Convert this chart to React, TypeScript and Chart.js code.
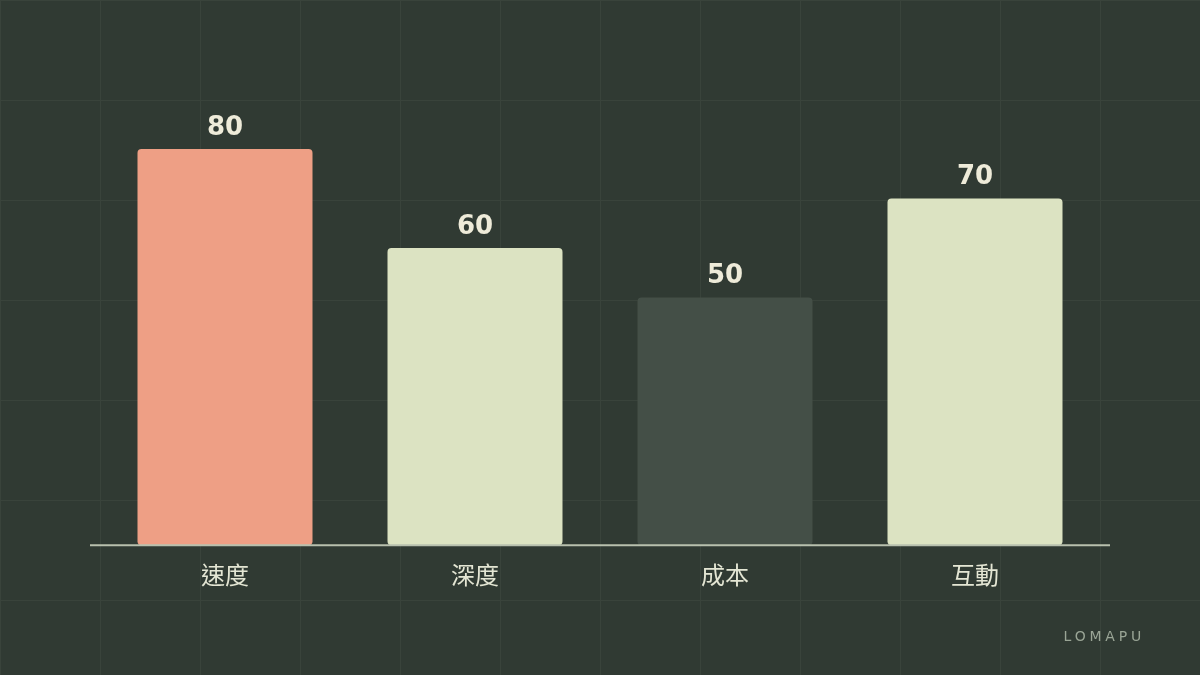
import React, { useEffect, useRef } from 'react';
import { Chart, registerables } from 'chart.js';
Chart.register(...registerables);

const categories = ['速度', '深度', '成本', '互動'];
const scores = [80, 60, 50, 70];
const barColors = ['#EE9F85', '#DCE3C2', '#444F47', '#DCE3C2'];

const BG = '#303A33';
const GRID_LINE = '#39433B';

const valueLabels = {
    id: 'valueLabels',
    afterDatasetsDraw(chart: Chart) {
        const ctx = chart.ctx;
        const meta = chart.getDatasetMeta(0);
        ctx.save();
        ctx.font = 'bold 26px "DejaVu Sans", sans-serif';
        ctx.fillStyle = '#EEEBD9';
        ctx.textAlign = 'center';
        ctx.textBaseline = 'middle';
        meta.data.forEach((bar: any, i: number) => {
            ctx.fillText(String(scores[i]), bar.x, bar.y - 21);
        });
        ctx.restore();
    },
};

const baseLine = {
    id: 'baseLine',
    afterDatasetsDraw(chart: Chart) {
        const { ctx, chartArea } = chart;
        ctx.save();
        ctx.strokeStyle = '#B8C0AE';
        ctx.lineWidth = 2;
        ctx.beginPath();
        ctx.moveTo(chartArea.left - 10, chartArea.bottom);
        ctx.lineTo(chartArea.right + 10, chartArea.bottom);
        ctx.stroke();
        ctx.restore();
    },
};

const App: React.FC = () => {
    const canvasRef = useRef<HTMLCanvasElement>(null);
    const chartRef = useRef<Chart | null>(null);

    useEffect(() => {
        document.body.style.margin = '0';
        if (!canvasRef.current) return;
        if (chartRef.current) chartRef.current.destroy();
        chartRef.current = new Chart(canvasRef.current, {
            type: 'bar',
            data: {
                labels: categories,
                datasets: [{
                    data: scores,
                    backgroundColor: barColors,
                    borderRadius: 4,
                    borderSkipped: false,
                    barPercentage: 0.7,
                    categoryPercentage: 1,
                }],
            },
            options: {
                responsive: false,
                animation: false,
                layout: { padding: { left: 100, right: 100, top: 50, bottom: 65 } },
                plugins: { legend: { display: false }, tooltip: { enabled: false } },
                scales: {
                    x: {
                        grid: { display: false, drawTicks: false },
                        border: { display: false },
                        ticks: {
                            color: '#E4E6D4',
                            padding: 18,
                            font: { size: 24, family: '"DejaVu Sans", "Noto Sans CJK TC", sans-serif' },
                        },
                    },
                    y: { display: false, min: 0, max: 100 },
                },
            },
            plugins: [valueLabels, baseLine],
        });
        return () => { if (chartRef.current) chartRef.current.destroy(); };
    }, []);

    return (
        <div
            style={{
                position: 'relative',
                width: 1200,
                height: 675,
                backgroundColor: BG,
                backgroundImage: `linear-gradient(to right, ${GRID_LINE} 1px, transparent 1px), linear-gradient(to bottom, ${GRID_LINE} 1px, transparent 1px)`,
                backgroundSize: '100px 100px',
                fontFamily: '"DejaVu Sans", sans-serif',
            }}
        >
            <canvas ref={canvasRef} width={1200} height={675} style={{ display: 'block' }}></canvas>
            <div
                style={{
                    position: 'absolute',
                    right: 55,
                    top: 628,
                    fontSize: 14,
                    letterSpacing: 3.8,
                    color: '#9AA596',
                }}
            >
                LOMAPU
            </div>
        </div>
    );
};

export default App;
